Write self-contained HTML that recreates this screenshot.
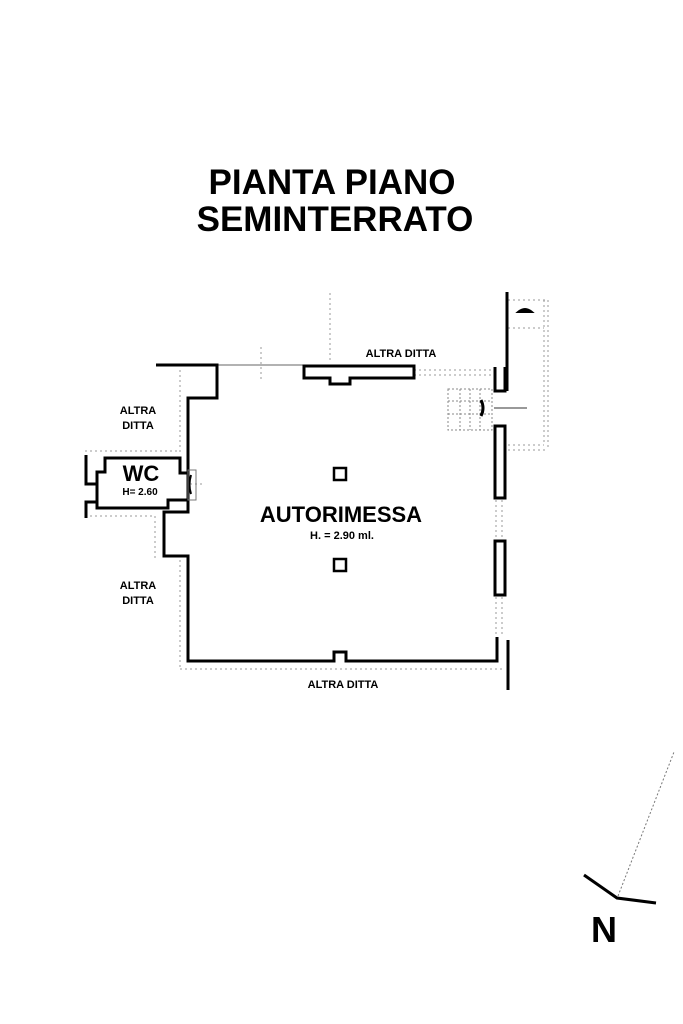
<!DOCTYPE html>
<html><head><style>
body{margin:0;background:#fff;width:683px;height:1024px;overflow:hidden}
svg{display:block}
text{font-family:"Liberation Sans",Arial,sans-serif;font-weight:bold;fill:#000}
</style></head><body>
<svg width="683" height="1024" viewBox="0 0 683 1024">
<text x="332" y="194" font-size="35" text-anchor="middle">PIANTA PIANO</text>
<text x="335" y="231" font-size="35" text-anchor="middle">SEMINTERRATO</text>

<g stroke="#999" stroke-width="1" stroke-dasharray="2,3" fill="none">
<line x1="330" y1="293" x2="330" y2="363"/>
<line x1="261" y1="347" x2="261" y2="380"/>
<line x1="217" y1="365" x2="304" y2="365" stroke-dasharray="none" stroke="#666"/>
<line x1="180" y1="370" x2="180" y2="455"/>
<line x1="85" y1="451" x2="180" y2="451"/>
<line x1="85" y1="516" x2="155" y2="516"/>
<line x1="155" y1="516" x2="155" y2="560"/>
<line x1="180" y1="560" x2="180" y2="668"/>
<line x1="180" y1="669" x2="505" y2="669"/>
<line x1="508" y1="300" x2="548" y2="300"/>
<line x1="548" y1="300" x2="548" y2="450"/>
<line x1="508" y1="450" x2="548" y2="450"/>
<line x1="508" y1="328" x2="544" y2="328"/>
<line x1="544" y1="300" x2="544" y2="445"/>
<line x1="508" y1="445" x2="544" y2="445"/>
<line x1="496" y1="500" x2="496" y2="540"/>
<line x1="502" y1="500" x2="502" y2="540"/>
<line x1="496" y1="597" x2="496" y2="636"/>
<line x1="502" y1="597" x2="502" y2="636"/>
<line x1="414" y1="370" x2="494" y2="370"/>
<line x1="414" y1="375" x2="494" y2="375"/>
<line x1="190" y1="484" x2="205" y2="484"/>
<line x1="494" y1="408" x2="527" y2="408" stroke-dasharray="none" stroke="#333"/>
</g>
<g stroke="#888" stroke-width="1" fill="none" stroke-dasharray="2,2">
<rect x="448" y="389" width="44" height="41"/>
<line x1="460" y1="389" x2="460" y2="430"/>
<line x1="470" y1="389" x2="470" y2="430"/>
<line x1="480" y1="389" x2="480" y2="430"/>
<line x1="448" y1="401" x2="492" y2="401"/>
<line x1="448" y1="414" x2="492" y2="414"/>
</g>
<path d="M481,400 Q485,408 481,416" stroke="#000" stroke-width="3" fill="none"/>
<path d="M518,312 Q525,306 532,312 Z" stroke="#000" stroke-width="2" fill="#000"/>

<g stroke="#000" stroke-width="3" fill="none">
<polyline points="156,365 217,365 217,398 188,398 188,473 180,473 180,458 105,458 105,472 97,472 97,508 168,508 168,500 188,500 188,512 164,512 164,556 188,556 188,661 334,661 334,652 346,652 346,661 497,661 497,637"/>
<line x1="188" y1="473" x2="188" y2="500"/>
<polyline points="86,455 86,484 97,484"/>
<polyline points="86,518 86,502 97,502"/>
<polygon points="304,366 414,366 414,378 350,378 350,384 330,384 330,378 304,378"/>
<rect x="495" y="426" width="10" height="72"/>
<rect x="495" y="541" width="10" height="54"/>
<polyline points="495,367 495,391 505,391 505,367"/>
<line x1="507" y1="292" x2="507" y2="391"/>
<line x1="508" y1="640" x2="508" y2="690"/>
<rect x="334" y="468" width="12" height="12" stroke-width="2.5"/>
<rect x="334" y="559" width="12" height="12" stroke-width="2.5"/>
</g>
<path d="M191,475 Q188,485 191,494" stroke="#000" stroke-width="2" fill="none"/>
<rect x="188" y="470" width="8" height="30" fill="none" stroke="#777" stroke-width="1"/>

<text x="401" y="357" font-size="11" text-anchor="middle">ALTRA DITTA</text>
<text x="138" y="414" font-size="11" text-anchor="middle">ALTRA</text>
<text x="138" y="429" font-size="11" text-anchor="middle">DITTA</text>
<text x="138" y="589" font-size="11" text-anchor="middle">ALTRA</text>
<text x="138" y="604" font-size="11" text-anchor="middle">DITTA</text>
<text x="343" y="688" font-size="11" text-anchor="middle">ALTRA DITTA</text>
<text x="141" y="481" font-size="22" text-anchor="middle">WC</text>
<text x="140" y="495" font-size="10" text-anchor="middle">H= 2.60</text>
<text x="341" y="522" font-size="22" text-anchor="middle">AUTORIMESSA</text>
<text x="342" y="539" font-size="11" text-anchor="middle">H. = 2.90 ml.</text>

<polyline points="584,875 617,898 656,903" stroke="#000" stroke-width="3" fill="none"/>
<line x1="618" y1="896" x2="674" y2="752" stroke="#777" stroke-width="1" stroke-dasharray="2,2"/>
<text x="604" y="942" font-size="36" text-anchor="middle">N</text>
</svg>
</body></html>
